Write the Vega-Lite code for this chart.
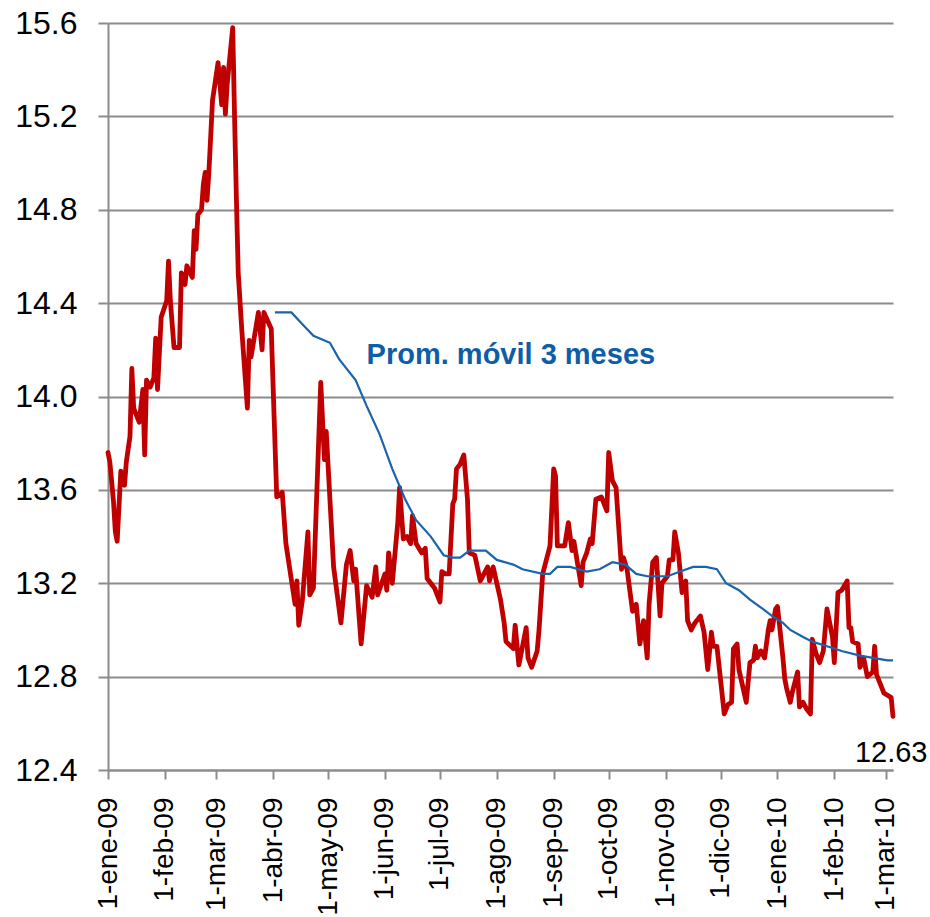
{
  "$schema": "https://vega.github.io/schema/vega-lite/v6.json",
  "width": 785,
  "height": 747,
  "autosize": {"type": "none"},
  "padding": {"left": 108, "top": 23, "right": 37, "bottom": 147},
  "background": "white",
  "config": {"view": {"stroke": null}, "font": "Liberation Sans"},
  "datasets": {
    "tasa": [
      {"fecha":"2009-01-01","valor":13.76},{"fecha":"2009-01-02","valor":13.72},{"fecha":"2009-01-04","valor":13.55},{"fecha":"2009-01-05","valor":13.42},{"fecha":"2009-01-06","valor":13.38},{"fecha":"2009-01-08","valor":13.68},{"fecha":"2009-01-10","valor":13.62},{"fecha":"2009-01-11","valor":13.72},{"fecha":"2009-01-13","valor":13.83},{"fecha":"2009-01-14","valor":14.12},{"fecha":"2009-01-15","valor":13.95},{"fecha":"2009-01-18","valor":13.89},{"fecha":"2009-01-20","valor":14.03},{"fecha":"2009-01-21","valor":13.75},{"fecha":"2009-01-22","valor":14.07},{"fecha":"2009-01-24","valor":14.04},{"fecha":"2009-01-26","valor":14.08},{"fecha":"2009-01-27","valor":14.25},{"fecha":"2009-01-28","valor":14.03},{"fecha":"2009-01-30","valor":14.34},
      {"fecha":"2009-02-02","valor":14.41},{"fecha":"2009-02-03","valor":14.58},{"fecha":"2009-02-04","valor":14.41},{"fecha":"2009-02-06","valor":14.21},{"fecha":"2009-02-09","valor":14.21},{"fecha":"2009-02-10","valor":14.53},{"fecha":"2009-02-12","valor":14.48},{"fecha":"2009-02-13","valor":14.56},{"fecha":"2009-02-16","valor":14.51},{"fecha":"2009-02-17","valor":14.71},{"fecha":"2009-02-18","valor":14.63},{"fecha":"2009-02-19","valor":14.78},{"fecha":"2009-02-21","valor":14.80},{"fecha":"2009-02-22","valor":14.91},{"fecha":"2009-02-23","valor":14.96},{"fecha":"2009-02-24","valor":14.84},{"fecha":"2009-02-25","valor":14.96},{"fecha":"2009-02-27","valor":15.27},
      {"fecha":"2009-03-02","valor":15.43},{"fecha":"2009-03-04","valor":15.25},{"fecha":"2009-03-05","valor":15.41},{"fecha":"2009-03-06","valor":15.21},{"fecha":"2009-03-07","valor":15.34},{"fecha":"2009-03-10","valor":15.58},{"fecha":"2009-03-11","valor":15.20},{"fecha":"2009-03-12","valor":14.85},{"fecha":"2009-03-13","valor":14.53},{"fecha":"2009-03-15","valor":14.28},{"fecha":"2009-03-18","valor":13.95},{"fecha":"2009-03-19","valor":14.24},{"fecha":"2009-03-20","valor":14.17},{"fecha":"2009-03-24","valor":14.36},{"fecha":"2009-03-26","valor":14.20},{"fecha":"2009-03-27","valor":14.36},{"fecha":"2009-03-31","valor":14.29},
      {"fecha":"2009-04-03","valor":13.57},{"fecha":"2009-04-06","valor":13.59},{"fecha":"2009-04-08","valor":13.37},{"fecha":"2009-04-13","valor":13.11},{"fecha":"2009-04-14","valor":13.21},{"fecha":"2009-04-15","valor":13.02},{"fecha":"2009-04-17","valor":13.13},{"fecha":"2009-04-20","valor":13.42},{"fecha":"2009-04-21","valor":13.15},{"fecha":"2009-04-23","valor":13.18},{"fecha":"2009-04-27","valor":14.06},{"fecha":"2009-04-29","valor":13.73},{"fecha":"2009-04-30","valor":13.85},
      {"fecha":"2009-05-04","valor":13.27},{"fecha":"2009-05-06","valor":13.15},{"fecha":"2009-05-08","valor":13.03},{"fecha":"2009-05-11","valor":13.28},{"fecha":"2009-05-13","valor":13.34},{"fecha":"2009-05-15","valor":13.21},{"fecha":"2009-05-16","valor":13.26},{"fecha":"2009-05-19","valor":12.94},{"fecha":"2009-05-22","valor":13.19},{"fecha":"2009-05-25","valor":13.14},{"fecha":"2009-05-27","valor":13.27},{"fecha":"2009-05-28","valor":13.15},
      {"fecha":"2009-06-01","valor":13.24},{"fecha":"2009-06-02","valor":13.17},{"fecha":"2009-06-03","valor":13.33},{"fecha":"2009-06-05","valor":13.20},{"fecha":"2009-06-08","valor":13.46},{"fecha":"2009-06-09","valor":13.61},{"fecha":"2009-06-11","valor":13.39},{"fecha":"2009-06-13","valor":13.40},{"fecha":"2009-06-15","valor":13.37},{"fecha":"2009-06-16","valor":13.49},{"fecha":"2009-06-18","valor":13.37},{"fecha":"2009-06-21","valor":13.33},{"fecha":"2009-06-23","valor":13.35},{"fecha":"2009-06-24","valor":13.22},{"fecha":"2009-06-28","valor":13.18},
      {"fecha":"2009-07-01","valor":13.12},{"fecha":"2009-07-02","valor":13.25},{"fecha":"2009-07-04","valor":13.24},{"fecha":"2009-07-06","valor":13.24},{"fecha":"2009-07-08","valor":13.54},{"fecha":"2009-07-09","valor":13.56},{"fecha":"2009-07-10","valor":13.69},{"fecha":"2009-07-12","valor":13.71},{"fecha":"2009-07-14","valor":13.75},{"fecha":"2009-07-16","valor":13.56},{"fecha":"2009-07-17","valor":13.33},{"fecha":"2009-07-20","valor":13.32},{"fecha":"2009-07-23","valor":13.21},{"fecha":"2009-07-27","valor":13.27},{"fecha":"2009-07-28","valor":13.21},{"fecha":"2009-07-30","valor":13.27},
      {"fecha":"2009-08-03","valor":13.13},{"fecha":"2009-08-05","valor":13.03},{"fecha":"2009-08-06","valor":12.95},{"fecha":"2009-08-10","valor":12.92},{"fecha":"2009-08-11","valor":13.02},{"fecha":"2009-08-13","valor":12.85},{"fecha":"2009-08-17","valor":13.01},{"fecha":"2009-08-18","valor":12.88},{"fecha":"2009-08-20","valor":12.84},{"fecha":"2009-08-23","valor":12.91},{"fecha":"2009-08-24","valor":13.00},{"fecha":"2009-08-26","valor":13.24},{"fecha":"2009-08-30","valor":13.36},
      {"fecha":"2009-09-01","valor":13.69},{"fecha":"2009-09-02","valor":13.66},{"fecha":"2009-09-03","valor":13.36},{"fecha":"2009-09-07","valor":13.36},{"fecha":"2009-09-09","valor":13.46},{"fecha":"2009-09-11","valor":13.34},{"fecha":"2009-09-12","valor":13.38},{"fecha":"2009-09-16","valor":13.19},{"fecha":"2009-09-17","valor":13.29},{"fecha":"2009-09-19","valor":13.33},{"fecha":"2009-09-21","valor":13.39},{"fecha":"2009-09-22","valor":13.37},{"fecha":"2009-09-24","valor":13.56},{"fecha":"2009-09-27","valor":13.57},{"fecha":"2009-09-30","valor":13.51},
      {"fecha":"2009-10-01","valor":13.76},{"fecha":"2009-10-03","valor":13.64},{"fecha":"2009-10-05","valor":13.61},{"fecha":"2009-10-08","valor":13.26},{"fecha":"2009-10-09","valor":13.31},{"fecha":"2009-10-11","valor":13.26},{"fecha":"2009-10-14","valor":13.08},{"fecha":"2009-10-16","valor":13.11},{"fecha":"2009-10-18","valor":12.94},{"fecha":"2009-10-20","valor":13.04},{"fecha":"2009-10-22","valor":12.88},{"fecha":"2009-10-23","valor":13.11},{"fecha":"2009-10-25","valor":13.29},{"fecha":"2009-10-27","valor":13.31},{"fecha":"2009-10-29","valor":13.06},{"fecha":"2009-10-30","valor":13.20},
      {"fecha":"2009-11-02","valor":13.23},{"fecha":"2009-11-03","valor":13.30},{"fecha":"2009-11-05","valor":13.30},{"fecha":"2009-11-06","valor":13.42},{"fecha":"2009-11-08","valor":13.33},{"fecha":"2009-11-10","valor":13.16},{"fecha":"2009-11-12","valor":13.21},{"fecha":"2009-11-13","valor":13.04},{"fecha":"2009-11-15","valor":13.00},{"fecha":"2009-11-17","valor":13.03},{"fecha":"2009-11-20","valor":13.06},{"fecha":"2009-11-22","valor":12.99},{"fecha":"2009-11-24","valor":12.83},{"fecha":"2009-11-26","valor":12.99},{"fecha":"2009-11-27","valor":12.93},{"fecha":"2009-11-29","valor":12.93},
      {"fecha":"2009-12-03","valor":12.64},{"fecha":"2009-12-05","valor":12.68},{"fecha":"2009-12-07","valor":12.69},{"fecha":"2009-12-08","valor":12.92},{"fecha":"2009-12-10","valor":12.94},{"fecha":"2009-12-11","valor":12.83},{"fecha":"2009-12-15","valor":12.69},{"fecha":"2009-12-17","valor":12.86},{"fecha":"2009-12-19","valor":12.87},{"fecha":"2009-12-20","valor":12.93},{"fecha":"2009-12-21","valor":12.88},{"fecha":"2009-12-23","valor":12.91},{"fecha":"2009-12-25","valor":12.88},{"fecha":"2009-12-27","valor":13.00},{"fecha":"2009-12-28","valor":13.04},{"fecha":"2009-12-29","valor":13.00},{"fecha":"2009-12-31","valor":13.09},
      {"fecha":"2010-01-01","valor":13.10},{"fecha":"2010-01-02","valor":13.03},{"fecha":"2010-01-04","valor":12.88},{"fecha":"2010-01-05","valor":12.79},{"fecha":"2010-01-06","valor":12.75},{"fecha":"2010-01-08","valor":12.69},{"fecha":"2010-01-09","valor":12.73},{"fecha":"2010-01-12","valor":12.82},{"fecha":"2010-01-13","valor":12.67},{"fecha":"2010-01-15","valor":12.69},{"fecha":"2010-01-17","valor":12.66},{"fecha":"2010-01-19","valor":12.64},{"fecha":"2010-01-20","valor":12.96},{"fecha":"2010-01-22","valor":12.90},{"fecha":"2010-01-24","valor":12.86},{"fecha":"2010-01-26","valor":12.91},{"fecha":"2010-01-28","valor":13.09},{"fecha":"2010-01-31","valor":12.97},
      {"fecha":"2010-02-01","valor":12.86},{"fecha":"2010-02-03","valor":13.16},{"fecha":"2010-02-05","valor":13.17},{"fecha":"2010-02-08","valor":13.21},{"fecha":"2010-02-09","valor":13.01},{"fecha":"2010-02-10","valor":13.01},{"fecha":"2010-02-11","valor":12.95},{"fecha":"2010-02-14","valor":12.94},{"fecha":"2010-02-15","valor":12.84},{"fecha":"2010-02-17","valor":12.88},{"fecha":"2010-02-19","valor":12.80},{"fecha":"2010-02-22","valor":12.82},{"fecha":"2010-02-23","valor":12.93},{"fecha":"2010-02-24","valor":12.81},{"fecha":"2010-02-26","valor":12.77},{"fecha":"2010-02-28","valor":12.73},
      {"fecha":"2010-03-02","valor":12.72},{"fecha":"2010-03-04","valor":12.71},{"fecha":"2010-03-05","valor":12.63}
    ],
    "prom": [
      {"fecha":"2009-04-02","valor":14.36},{"fecha":"2009-04-11","valor":14.36},{"fecha":"2009-04-17","valor":14.31},{"fecha":"2009-04-23","valor":14.26},{"fecha":"2009-05-02","valor":14.23},{"fecha":"2009-05-07","valor":14.16},{"fecha":"2009-05-16","valor":14.07},{"fecha":"2009-05-22","valor":13.96},{"fecha":"2009-05-29","valor":13.84},{"fecha":"2009-06-05","valor":13.69},{"fecha":"2009-06-12","valor":13.56},{"fecha":"2009-06-18","valor":13.47},{"fecha":"2009-06-26","valor":13.40},{"fecha":"2009-07-03","valor":13.32},{"fecha":"2009-07-08","valor":13.31},{"fecha":"2009-07-12","valor":13.31},{"fecha":"2009-07-17","valor":13.34},{"fecha":"2009-07-26","valor":13.34},{"fecha":"2009-08-01","valor":13.30},{"fecha":"2009-08-10","valor":13.28},{"fecha":"2009-08-15","valor":13.26},{"fecha":"2009-08-26","valor":13.24},{"fecha":"2009-08-30","valor":13.24},{"fecha":"2009-09-03","valor":13.27},{"fecha":"2009-09-10","valor":13.27},{"fecha":"2009-09-19","valor":13.25},{"fecha":"2009-09-26","valor":13.26},{"fecha":"2009-10-03","valor":13.29},{"fecha":"2009-10-10","valor":13.28},{"fecha":"2009-10-16","valor":13.24},{"fecha":"2009-10-22","valor":13.23},{"fecha":"2009-11-02","valor":13.23},{"fecha":"2009-11-09","valor":13.25},{"fecha":"2009-11-16","valor":13.27},{"fecha":"2009-11-23","valor":13.27},{"fecha":"2009-11-29","valor":13.26},{"fecha":"2009-12-04","valor":13.20},{"fecha":"2009-12-11","valor":13.17},{"fecha":"2009-12-17","valor":13.13},{"fecha":"2009-12-24","valor":13.09},{"fecha":"2009-12-29","valor":13.06},{"fecha":"2010-01-04","valor":13.03},{"fecha":"2010-01-08","valor":13.00},{"fecha":"2010-01-15","valor":12.97},{"fecha":"2010-01-20","valor":12.95},{"fecha":"2010-01-28","valor":12.93},{"fecha":"2010-02-05","valor":12.91},{"fecha":"2010-02-15","valor":12.89},{"fecha":"2010-02-22","valor":12.88},{"fecha":"2010-03-02","valor":12.87},{"fecha":"2010-03-05","valor":12.87}
    ],
    "nota_prom": [{"fecha":"2009-05-22","valor":14.14,"texto":"Prom. móvil 3 meses"}],
    "nota_ult": [{"fecha":"2010-03-04","valor":12.434,"texto":"12.63"}]
  },
  "encoding": {
    "x": {
      "field": "fecha", "type": "temporal",
      "scale": {"type": "utc", "domain": [{"year": 2009, "month": 1, "date": 1, "utc": true}, {"year": 2010, "month": 3, "date": 5, "utc": true}]},
      "axis": {
        "title": null,
        "values": [
          {"year":2009,"month":1,"date":1,"utc":true},{"year":2009,"month":2,"date":1,"utc":true},{"year":2009,"month":3,"date":1,"utc":true},{"year":2009,"month":4,"date":1,"utc":true},{"year":2009,"month":5,"date":1,"utc":true},{"year":2009,"month":6,"date":1,"utc":true},{"year":2009,"month":7,"date":1,"utc":true},{"year":2009,"month":8,"date":1,"utc":true},{"year":2009,"month":9,"date":1,"utc":true},{"year":2009,"month":10,"date":1,"utc":true},{"year":2009,"month":11,"date":1,"utc":true},{"year":2009,"month":12,"date":1,"utc":true},{"year":2010,"month":1,"date":1,"utc":true},{"year":2010,"month":2,"date":1,"utc":true},{"year":2010,"month":3,"date":1,"utc":true}
        ],
        "labelExpr": "'1-' + ['ene','feb','mar','abr','may','jun','jul','ago','sep','oct','nov','dic'][utcmonth(datum.value)] + '-' + utcFormat(datum.value, '%y')",
        "labelAngle": -90,
        "labelAlign": "right",
        "labelBaseline": "middle",
        "labelFont": "Liberation Sans",
        "labelFontSize": 28,
        "labelColor": "#000000",
        "labelPadding": 18,
        "labelOverlap": false,
        "labelFlush": false,
        "tickSize": 9,
        "tickColor": "#8c8c8c",
        "tickWidth": 2,
        "domainColor": "#8c8c8c",
        "domainWidth": 2,
        "grid": false
      }
    },
    "y": {
      "field": "valor", "type": "quantitative",
      "scale": {"domain": [12.4, 15.6], "nice": false, "zero": false},
      "axis": {
        "title": null,
        "values": [12.4, 12.8, 13.2, 13.6, 14.0, 14.4, 14.8, 15.2, 15.6],
        "format": ".1f",
        "labelFont": "Liberation Sans",
        "labelFontSize": 32,
        "labelColor": "#000000",
        "labelPadding": 21,
        "labelFlush": false,
        "tickSize": 10,
        "tickColor": "#8c8c8c",
        "tickWidth": 2,
        "domainColor": "#8c8c8c",
        "domainWidth": 2,
        "grid": true,
        "gridColor": "#8c8c8c",
        "gridWidth": 2
      }
    }
  },
  "layer": [
    {
      "data": {"name": "tasa"},
      "mark": {"type": "line", "color": "#C00000", "strokeWidth": 4.8, "strokeJoin": "round", "strokeCap": "round"}
    },
    {
      "data": {"name": "prom"},
      "mark": {"type": "line", "color": "#1A63AD", "strokeWidth": 2.2}
    },
    {
      "data": {"name": "nota_prom"},
      "mark": {"type": "text", "align": "left", "baseline": "alphabetic", "font": "Liberation Sans", "fontSize": 29, "fontWeight": "bold", "color": "#0D5EA6"},
      "encoding": {"text": {"field": "texto"}}
    },
    {
      "data": {"name": "nota_ult"},
      "mark": {"type": "text", "align": "center", "baseline": "alphabetic", "font": "Liberation Sans", "fontSize": 29, "color": "#000000"},
      "encoding": {"text": {"field": "texto"}}
    }
  ]
}
